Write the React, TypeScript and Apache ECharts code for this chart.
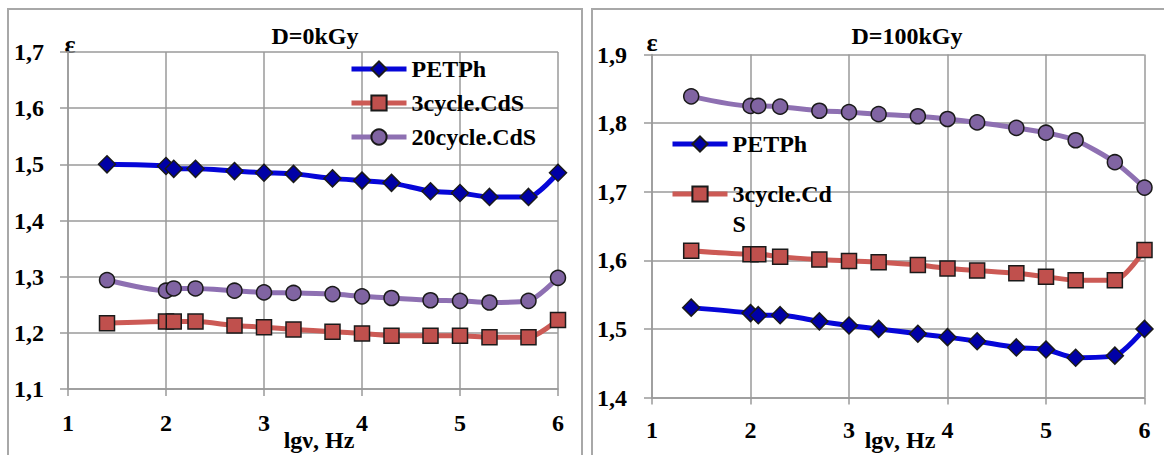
import React, { useEffect, useRef } from "react";
import * as echarts from "echarts";

// lg(frequency, Hz)
const lgNu = [1.398, 2.0, 2.079, 2.301, 2.699, 3.0, 3.301, 3.699, 4.0, 4.301, 4.699, 5.0, 5.301, 5.699, 6.0];

// D = 0 kGy
const petph0 = [1.5, 1.497, 1.492, 1.492, 1.488, 1.485, 1.483, 1.475, 1.471, 1.467, 1.452, 1.449, 1.442, 1.442, 1.485];
const cds3_0 = [1.217, 1.22, 1.22, 1.22, 1.213, 1.21, 1.206, 1.202, 1.199, 1.195, 1.195, 1.195, 1.192, 1.192, 1.223];
const cds20_0 = [1.294, 1.275, 1.279, 1.279, 1.275, 1.272, 1.271, 1.269, 1.265, 1.262, 1.258, 1.257, 1.254, 1.257, 1.298];

// D = 100 kGy
const petph100 = [1.531, 1.523, 1.52, 1.52, 1.511, 1.505, 1.5, 1.493, 1.488, 1.482, 1.473, 1.47, 1.458, 1.461, 1.5];
const cds3_100 = [1.614, 1.609, 1.609, 1.605, 1.601, 1.599, 1.597, 1.593, 1.588, 1.585, 1.581, 1.576, 1.571, 1.571, 1.615];
const cds20_100 = [1.839, 1.825, 1.825, 1.824, 1.818, 1.816, 1.813, 1.81, 1.806, 1.801, 1.793, 1.786, 1.775, 1.743, 1.706];

const titles = ["D=0kGy", "D=100kGy"];
const yName = "ε";
const xName = "lgν, Hz";
const names = ["PETPh", "3cycle.CdS", "20cycle.CdS"];

const FONT = "'Liberation Serif', 'Times New Roman', serif";
const GRID_COLOR = "#9a9a9a";

const styles = [
  { line: "#0606d8", fill: "#0000a6", symbol: "diamond", size: 17 },
  { line: "#cc5a55", fill: "#c0504d", symbol: "rect", size: 15 },
  { line: "#8e70b2", fill: "#8064a2", symbol: "circle", size: 15 },
];

function makeSeries(name: string, vals: number[], idx: number, styleIdx: number) {
  const s = styles[styleIdx];
  return {
    name,
    type: "line",
    xAxisIndex: idx,
    yAxisIndex: idx,
    smooth: 0.25,
    symbol: s.symbol,
    symbolSize: s.size,
    lineStyle: { color: s.line, width: 5 },
    itemStyle: { color: s.fill, borderColor: "#1a1a1a", borderWidth: 1.5 },
    data: lgNu.map((x, i) => [x, vals[i]]),
  };
}

function xAxis(gridIndex: number, margin: number) {
  return {
    type: "value",
    gridIndex,
    min: 1,
    max: 6,
    interval: 1,
    axisLine: { show: true, lineStyle: { color: GRID_COLOR, width: 1.5 } },
    axisTick: { show: true, length: 7, lineStyle: { color: GRID_COLOR, width: 1.5 } },
    splitLine: { show: true, lineStyle: { color: GRID_COLOR, width: 1.5 } },
    axisLabel: {
      margin,
      color: "#000",
      fontFamily: FONT,
      fontWeight: "bold",
      fontSize: 24,
      formatter: (v: number) => String(Math.round(v)),
    },
  };
}

function yAxis(gridIndex: number, min: number, max: number, margin: number) {
  return {
    type: "value",
    gridIndex,
    min,
    max,
    interval: 0.1,
    axisLine: { show: true, lineStyle: { color: GRID_COLOR, width: 1.5 } },
    axisTick: { show: true, length: 8, lineStyle: { color: GRID_COLOR, width: 1.5 } },
    splitLine: { show: true, lineStyle: { color: GRID_COLOR, width: 1.5 } },
    axisLabel: {
      margin,
      color: "#000",
      fontFamily: FONT,
      fontWeight: "bold",
      fontSize: 24,
      formatter: (v: number) => v.toFixed(1).replace(".", ","),
    },
  };
}

const legendText = { color: "#000", fontFamily: FONT, fontWeight: "bold", fontSize: 24 };
const legendCommon = {
  orient: "vertical",
  itemWidth: 55,
  itemHeight: 19,
  selectedMode: false,
  lineStyle: { width: 5 },
};

export default function App() {
  const ref = useRef<HTMLDivElement>(null);
  useEffect(() => {
    if (!ref.current) return;
    const chart = echarts.init(ref.current, null, { renderer: "svg" });
    const textStyle = (text: string, x: number, y: number, size: number) => ({
      type: "text",
      x,
      y,
      style: {
        text,
        fill: "#000",
        font: `bold ${size}px ${FONT}`,
        align: "center",
        verticalAlign: "middle",
      },
    });
    chart.setOption({
      animation: false,
      backgroundColor: "#fff",
      grid: [
        { left: 68, top: 52, width: 490, height: 337 },
        { left: 652, top: 54.5, width: 492.5, height: 343 },
      ],
      xAxis: [xAxis(0, 22), xAxis(1, 20)],
      yAxis: [yAxis(0, 1.1, 1.7, 24), yAxis(1, 1.4, 1.9, 25)],
      legend: [
        {
          ...legendCommon,
          data: names,
          left: 344,
          top: 52,
          itemGap: 10,
          textStyle: legendText,
        },
        {
          ...legendCommon,
          data: [names[0]],
          left: 665,
          top: 127,
          textStyle: legendText,
        },
        {
          ...legendCommon,
          data: [names[1]],
          left: 665,
          top: 144,
          formatter: (n: string) => (n === "3cycle.CdS" ? " \n3cycle.Cd\nS" : n),
          textStyle: { ...legendText, lineHeight: 30 },
        },
      ],
      series: [
        makeSeries(names[0], petph0, 0, 0),
        makeSeries(names[1], cds3_0, 0, 1),
        makeSeries(names[2], cds20_0, 0, 2),
        makeSeries(names[2], cds20_100, 1, 2),
        makeSeries(names[1], cds3_100, 1, 1),
        makeSeries(names[0], petph100, 1, 0),
      ],
      graphic: [
        {
          type: "rect",
          shape: { x: 8, y: 9, width: 574, height: 470 },
          style: { fill: "none", stroke: "#a8a8a8", lineWidth: 2 },
          silent: true,
        },
        {
          type: "rect",
          shape: { x: 592, y: 9, width: 600, height: 470 },
          style: { fill: "none", stroke: "#a8a8a8", lineWidth: 2 },
          silent: true,
        },
        textStyle(titles[0], 315, 36, 24),
        textStyle(titles[1], 907, 36, 24),
        textStyle(yName, 70, 44, 26),
        textStyle(yName, 652, 42, 26),
        textStyle(xName, 319, 440, 24),
        textStyle(xName, 900, 440, 24),
      ],
    });
    return () => chart.dispose();
  }, []);
  return (
    <div
      ref={ref}
      style={{ position: "fixed", left: 0, top: 0, width: 1164, height: 455 }}
    />
  );
}
